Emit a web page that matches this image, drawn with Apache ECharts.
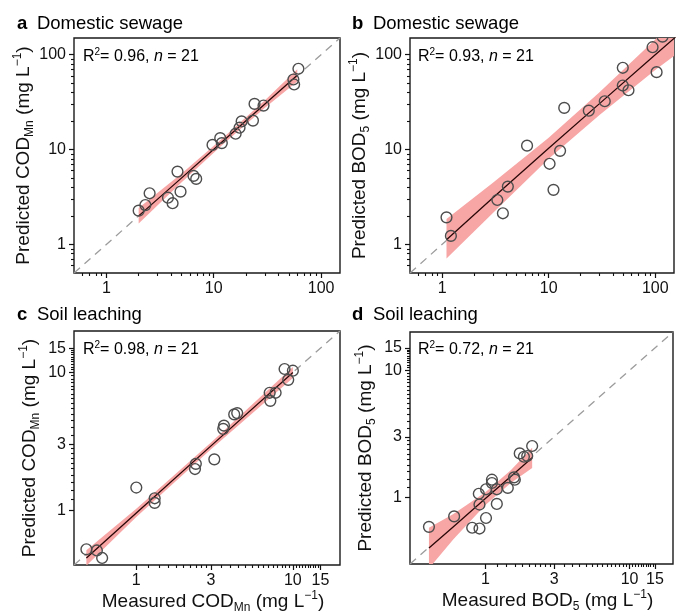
<!DOCTYPE html>
<html><head><meta charset="utf-8">
<script src="https://cdn.jsdelivr.net/npm/echarts@6/dist/echarts.min.js"></script>
<style>html,body{margin:0;padding:0;background:#fff}#c{width:683px;height:611px}</style>
</head><body><div id="c"></div>
<script>
// ---- tick values / labels ----
const majorTicksAB = [1, 10, 100];
const minorTicksAB = [0.6, 0.7, 0.8, 0.9, 2, 3, 4, 5, 6, 7, 8, 9, 20, 30, 40, 50, 60, 70, 80, 90];
const majorTicksCD = [1, 3, 10, 15];
const minorTicksCD = [1.2, 1.4, 1.6, 1.8, 2, 2.2, 2.4, 2.6, 2.8, 3.5, 4, 4.5, 5, 5.5, 6, 6.5, 7, 7.5, 8, 8.5, 9, 9.5, 10.5, 11, 11.5, 12, 12.5, 13, 13.5, 14, 14.5];

// ---- panel a: domestic sewage COD_Mn ----
const aMeasured  = [2.0, 2.31, 2.53, 3.75, 4.14, 4.6, 4.91, 6.49, 6.87, 9.75, 11.5, 11.9, 16.0, 17.4, 18.2, 23.2, 24.0, 29.1, 55.2, 56.1, 61.5];
const aPredicted = [2.27, 2.6, 3.46, 3.11, 2.72, 5.86, 3.6, 5.28, 4.91, 11.2, 13.2, 11.7, 14.7, 17.0, 19.8, 20.2, 30.3, 29.1, 54.8, 48.5, 71.1];
const aFitX   = [2.0, 5, 12, 30, 60];
const aFitY   = [2.0, 5.0, 12.1, 30.3, 60.6];
const aBandLo = [1.66, 4.51, 11.2, 27.6, 52.2];
const aBandHi = [2.42, 5.55, 13.1, 33.2, 70.4];

// ---- panel b: domestic sewage BOD5 ----
const bMeasured  = [1.1, 1.21, 3.3, 3.72, 4.14, 6.27, 10.2, 11.1, 12.8, 14.0, 23.8, 33.6, 49.6, 49.6, 56.1, 94.4, 103, 117];
const bPredicted = [1.93, 1.23, 2.94, 2.13, 4.07, 11.0, 7.08, 3.76, 9.7, 27.5, 25.7, 32.3, 72.8, 47.3, 42.2, 120, 65.5, 155];
const bFitX   = [1.1, 3, 10, 30, 100, 160];
const bFitY   = [1.12, 3.1, 10.3, 30.5, 100, 158];
const bBandLo = [0.71, 2.15, 8.0, 23.1, 69, 102];
const bBandHi = [1.85, 4.48, 13.3, 40.2, 145, 245];

// ---- panel c: soil leaching COD_Mn ----
const cMeasured  = [0.48, 0.56, 0.605, 1.0, 1.31, 1.31, 2.4, 2.37, 3.15, 3.63, 3.59, 4.22, 4.41, 7.11, 7.76, 7.18, 8.85, 9.34, 10.0];
const cPredicted = [0.52, 0.51, 0.45, 1.46, 1.22, 1.13, 2.17, 1.99, 2.34, 4.11, 3.89, 4.96, 5.07, 7.12, 7.12, 6.22, 10.6, 8.84, 10.3];
const cFitX   = [0.48, 1, 3, 10];
const cFitY   = [0.45, 0.955, 2.93, 10.0];
const cBandLo = [0.396, 0.891, 2.77, 9.12];
const cBandHi = [0.511, 1.024, 3.10, 10.96];

// ---- panel d: soil leaching BOD5 ----
const dMeasured  = [0.406, 0.607, 0.81, 0.91, 0.9, 0.91, 1.01, 1.01, 1.11, 1.11, 1.2, 1.2, 1.43, 1.58, 1.6, 1.73, 1.85, 1.95, 2.11];
const dPredicted = [0.588, 0.71, 0.578, 0.57, 1.07, 0.88, 0.69, 1.16, 1.38, 1.3, 1.16, 0.89, 1.19, 1.44, 1.38, 2.22, 2.09, 2.12, 2.54];
const dFitX   = [0.406, 0.6, 1.0, 1.5, 2.11];
const dFitY   = [0.40, 0.59, 0.98, 1.46, 2.05];
const dBandLo = [0.277, 0.469, 0.873, 1.30, 1.705];
const dBandHi = [0.578, 0.743, 1.10, 1.64, 2.46];

const FONT = '"Liberation Sans", Arial, Helvetica, sans-serif';
const INK = '#111';

const panels = [
  {grid:{left:74, top:38, width:266, height:235}, min:0.5, max:150, major:majorTicksAB, minor:minorTicksAB,
   mx:aMeasured, py:aPredicted, fx:aFitX, fy:aFitY, lo:aBandLo, hi:aBandHi,
   yName:'{n|Predicted COD}{sub|Mn}{n| (mg L}{sup|−1}{n|)}', xName:null},
  {grid:{left:410, top:38, width:264, height:235}, min:0.5, max:150, major:majorTicksAB, minor:minorTicksAB,
   mx:bMeasured, py:bPredicted, fx:bFitX, fy:bFitY, lo:bBandLo, hi:bBandHi,
   yName:'{n|Predicted BOD}{sub|5}{n| (mg L}{sup|−1}{n|)}', xName:null},
  {grid:{left:74, top:331, width:266, height:234}, min:0.4, max:20, major:majorTicksCD, minor:minorTicksCD,
   mx:cMeasured, py:cPredicted, fx:cFitX, fy:cFitY, lo:cBandLo, hi:cBandHi,
   yName:'{n|Predicted COD}{sub|Mn}{n| (mg L}{sup|−1}{n|)}', xName:'{n|Measured COD}{sub|Mn}{n| (mg L}{sup|−1}{n|)}'},
  {grid:{left:410, top:332, width:263, height:232}, min:0.3, max:20, major:majorTicksCD, minor:minorTicksCD,
   mx:dMeasured, py:dPredicted, fx:dFitX, fy:dFitY, lo:dBandLo, hi:dBandHi,
   yName:'{n|Predicted BOD}{sub|5}{n| (mg L}{sup|−1}{n|)}', xName:'{n|Measured BOD}{sub|5}{n| (mg L}{sup|−1}{n|)}'}
];

const nameRich = {
  n:{fontSize:19, fontFamily:FONT, color:INK, lineHeight:24},
  sub:{fontSize:12, fontFamily:FONT, color:INK, verticalAlign:'bottom', lineHeight:12},
  sup:{fontSize:12, fontFamily:FONT, color:INK, verticalAlign:'top', lineHeight:20}
};

const grids = [], xAxes = [], yAxes = [], series = [];
panels.forEach((p, gi) => {
  grids.push(Object.assign({show:true, borderColor:'#1a1a1a', borderWidth:1.4, backgroundColor:'transparent', containLabel:false, outerBoundsMode:'none'}, p.grid));
  const base = {type:'log', logBase:10, gridIndex:gi, min:p.min, max:p.max, splitLine:{show:false}, axisLine:{show:false}};
  const majorAx = (extra) => Object.assign({}, base, {
    axisTick:{show:true, length:5, lineStyle:{color:INK, width:1.2}, customValues:p.major},
    axisLabel:{show:true, customValues:p.major, fontSize:16, fontFamily:FONT, color:INK, margin:8}
  }, extra);
  const minorAx = (extra) => Object.assign({}, base, {
    axisTick:{show:true, length:3, lineStyle:{color:INK, width:1.1}, customValues:p.minor},
    axisLabel:{show:false}
  }, extra);
  const xa = majorAx({position:'bottom'});
  if (p.xName) {
    Object.assign(xa, {name:p.xName, nameLocation:'middle', nameGap:25, nameTextStyle:{rich:nameRich, padding:[0,0,0,12]}});
  }
  xAxes.push(xa, minorAx({position:'bottom'}));
  yAxes.push(majorAx({position:'left', name:p.yName, nameLocation:'middle', nameGap:32, nameTextStyle:{rich:nameRich}}),
             minorAx({position:'left'}));
  const xi = gi * 2, yi = gi * 2;
  // 1:1 dashed line
  series.push({type:'line', xAxisIndex:xi, yAxisIndex:yi, data:[[p.min, p.min],[p.max, p.max]], symbol:'none', silent:true, z:1,
    lineStyle:{color:'#9c9c9c', width:1.3, type:[8,6]}});
  // confidence band
  series.push({type:'custom', xAxisIndex:xi, yAxisIndex:yi, clip:true, silent:true, z:2,
    data:p.fx.map((x, i) => [x, p.lo[i], p.hi[i]]),
    renderItem:(params, api) => {
      if (params.dataIndexInside !== 0) return null;
      const n = params.dataInsideLength;
      const upper = [], lower = [];
      for (let i = 0; i < n; i++) {
        const x = api.value(0, i);
        upper.push(api.coord([x, api.value(2, i)]));
        lower.unshift(api.coord([x, api.value(1, i)]));
      }
      return {type:'polygon', shape:{points:upper.concat(lower)}, style:{fill:'#f7a5a5'}};
    }});
  // regression line
  series.push({type:'line', xAxisIndex:xi, yAxisIndex:yi, data:p.fx.map((x, i) => [x, p.fy[i]]), symbol:'none', silent:true, z:3,
    lineStyle:{color:'#2a0808', width:1.3}});
  // points
  series.push({type:'custom', xAxisIndex:xi, yAxisIndex:yi, clip:true, silent:true, z:4,
    data:p.mx.map((x, i) => [x, p.py[i]]),
    renderItem:(params, api) => {
      const c = api.coord([api.value(0), api.value(1)]);
      return {type:'circle', shape:{cx:c[0], cy:c[1], r:5.4}, style:{fill:'none', stroke:'#4d4d4d', lineWidth:1.4}};
    }});
});

const titleRich = {b:{fontSize:18.5, fontWeight:'bold', fontFamily:FONT, color:INK, padding:[0,3,0,0]}, n:{fontSize:18.5, fontFamily:FONT, color:INK}};
const r2Rich = {
  r:{fontSize:16, fontFamily:FONT, color:INK, lineHeight:20},
  s:{fontSize:10, fontFamily:FONT, color:INK, verticalAlign:'top', lineHeight:16},
  i:{fontSize:16, fontFamily:FONT, color:INK, fontStyle:'italic', lineHeight:20}
};
function txt(x, y, text, rich) { return {type:'text', left:x, top:y, silent:true, style:{text:text, rich:rich}}; }
const graphic = [
  txt(17, 14, '{b|a}  {n|Domestic sewage}', titleRich),
  txt(352, 14, '{b|b}  {n|Domestic sewage}', titleRich),
  txt(17, 305, '{b|c}  {n|Soil leaching}', titleRich),
  txt(352, 305, '{b|d}  {n|Soil leaching}', titleRich),
  txt(83, 47, '{r|R}{s|2}{r|= 0.96, }{i|n}{r| = 21}', r2Rich),
  txt(418, 47, '{r|R}{s|2}{r|= 0.93, }{i|n}{r| = 21}', r2Rich),
  txt(83, 340, '{r|R}{s|2}{r|= 0.98, }{i|n}{r| = 21}', r2Rich),
  txt(418, 340, '{r|R}{s|2}{r|= 0.72, }{i|n}{r| = 21}', r2Rich)
];

const chart = echarts.init(document.getElementById('c'), null, {renderer:'canvas'});
chart.setOption({animation:false, backgroundColor:'#fff', grid:grids, xAxis:xAxes, yAxis:yAxes, series:series, graphic:graphic});
</script></body></html>
